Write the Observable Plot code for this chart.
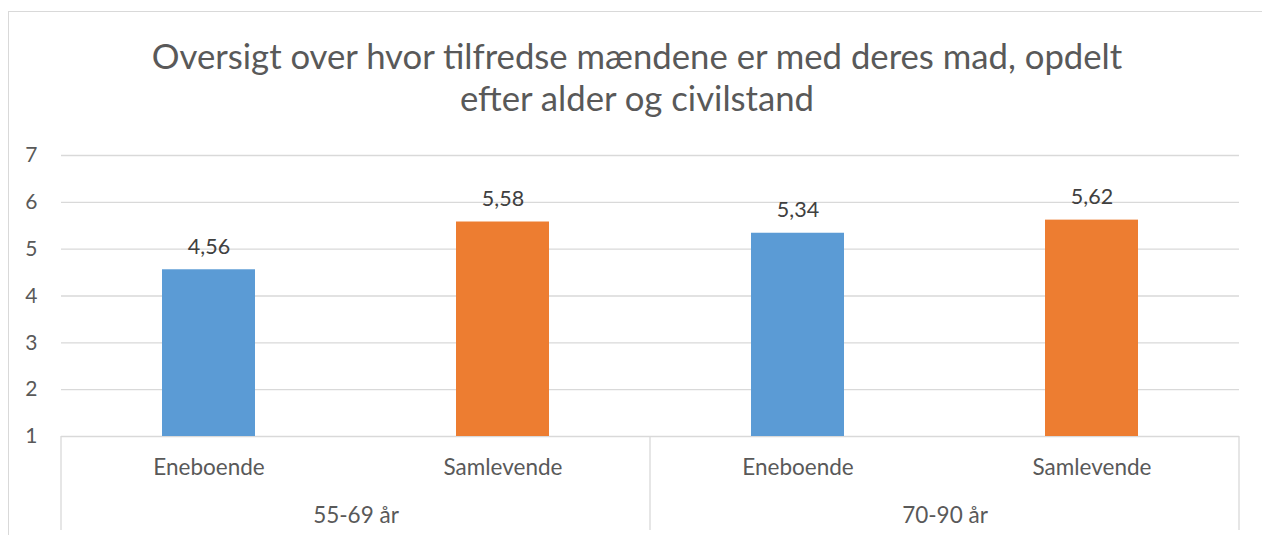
<!DOCTYPE html>
<html>
<head>
<meta charset="utf-8">
<script src="https://cdn.jsdelivr.net/npm/d3@7"></script>
<script src="https://cdn.jsdelivr.net/npm/@observablehq/plot@0.6"></script>
<style>
  html, body { margin: 0; padding: 0; background: #fff; }
  #wrap { position: relative; width: 1262px; height: 535px; overflow: hidden; font-family: Lato, "Open Sans", sans-serif; }
  #border { position: absolute; left: 8px; top: 11px; width: 1300px; height: 600px; border: 1px solid #d9d9d9; box-sizing: border-box; }
  #title { position: absolute; left: 0; width: 1262px; top: 35px; text-align: center; color: #595959; font-size: 34.7px; line-height: 42px; padding-left: 12px; box-sizing: border-box; }
  #chart { position: absolute; left: 0; top: 0; }
</style>
</head>
<body>
<div id="wrap">
  <div id="border"></div>
  <div id="title">Oversigt over hvor tilfredse mændene er med deres mad, opdelt<br>efter alder og civilstand</div>
  <div id="chart"></div>
</div>
<script>
const groups = ["55-69 år", "70-90 år"];
const statuses = ["Eneboende", "Samlevende"];
const values55 = [4.56, 5.58];
const values70 = [5.34, 5.62];
const yTicks = [1, 2, 3, 4, 5, 6, 7];
const colors = ["#5b9bd5", "#ed7d31"];

const seriesByGroup = [values55, values70];
const data = [];
groups.forEach((g, gi) => statuses.forEach((s, si) => data.push({group: g, status: s, value: seriesByGroup[gi][si]})));

const fmt = v => v.toFixed(2).replace(".", ",");

const chart = Plot.plot({
  width: 1262,
  height: 535,
  marginLeft: 60,
  marginRight: 23,
  marginTop: 155,
  marginBottom: 99,
  style: {fontFamily: "Lato, 'Open Sans', sans-serif", fontSize: "21px", color: "#595959", background: "transparent", overflow: "visible"},
  fx: {domain: groups, padding: 0, axis: null},
  x: {domain: statuses, paddingInner: 0.684, paddingOuter: 0.342, axis: null},
  y: {domain: [1, 7], ticks: yTicks},
  color: {domain: statuses, range: colors},
  marks: [
    Plot.gridY(yTicks, {stroke: "#d9d9d9", strokeOpacity: 1, strokeWidth: 1.3}),
    Plot.axisY(yTicks, {tickSize: 0, tickPadding: 24, label: null, fill: "#595959", fontSize: 21}),
    Plot.barY(data, {fx: "group", x: "status", y1: 1, y2: "value", fill: "status"}),
    Plot.text(data, {fx: "group", x: "status", y: "value", text: d => fmt(d.value), dy: -23, lineAnchor: "middle", fill: "#404040", fontSize: 21.5}),
    Plot.text(data, {fx: "group", x: "status", y: 1, text: "status", dy: 31, lineAnchor: "middle", fill: "#595959", fontSize: 22.5}),
    Plot.text(groups, {fx: d => d, frameAnchor: "bottom", text: d => d, dy: 79, lineAnchor: "middle", fill: "#595959", fontSize: 22.5})
  ]
});

document.getElementById("chart").appendChild(chart);

// group separator lines using the fx scale
const fx = chart.scale("fx");
const y = chart.scale("y");
const svg = d3.select(chart);
const yBase = y.apply(1);
const sepX = groups.map(g => fx.apply(g)).concat([fx.apply(groups[groups.length - 1]) + fx.bandwidth]);
svg.append("g")
  .selectAll("line")
  .data(sepX)
  .join("line")
  .attr("x1", d => d).attr("x2", d => d)
  .attr("y1", yBase).attr("y2", yBase + 94)
  .attr("stroke", "#d9d9d9")
  .attr("stroke-width", 1.3);
</script>
</body>
</html>
